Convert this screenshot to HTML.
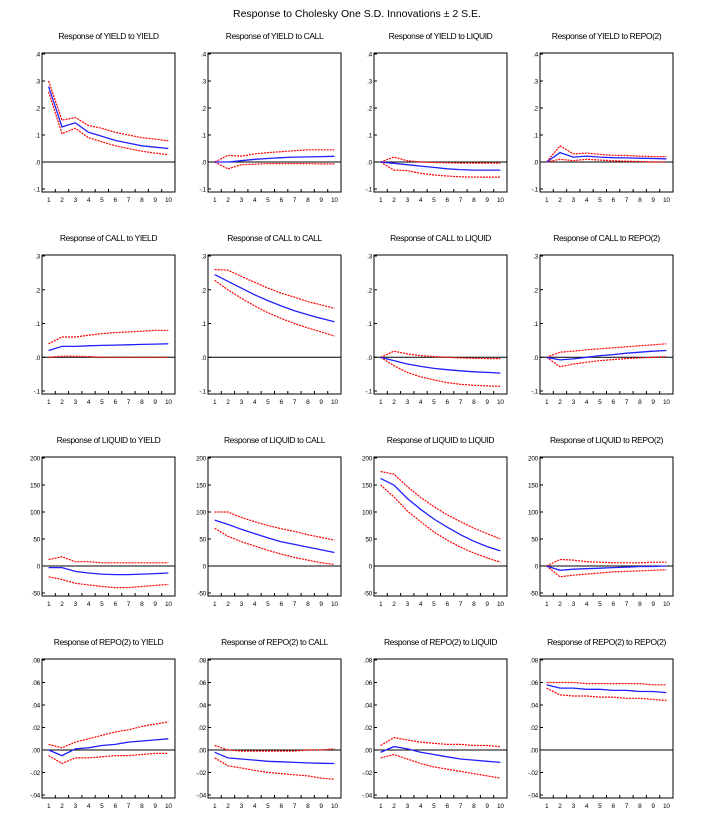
<!DOCTYPE html>
<html><head><meta charset="utf-8">
<style>
body{margin:0;background:#fff;width:715px;height:822px;overflow:hidden;font-family:"Liberation Sans",sans-serif}
svg{display:block}
</style></head>
<body>
<svg id="chart" width="715" height="822" xmlns="http://www.w3.org/2000/svg">
<text x="357" y="17" text-anchor="middle" font-size="10.5" font-family="Liberation Sans, sans-serif">Response to Cholesky One S.D. Innovations ± 2 S.E.</text>
</svg>
<script>
const periods = [1,2,3,4,5,6,7,8,9,10];
const rowTicks0 = [".4",".3",".2",".1",".0","-.1"];
const rowTickVals0 = [0.4,0.3,0.2,0.1,0,-0.1];
const rowTicks1 = [".3",".2",".1",".0","-.1"];
const rowTickVals1 = [0.3,0.2,0.1,0,-0.1];
const rowTicks2 = ["200","150","100","50","0","-50"];
const rowTickVals2 = [200,150,100,50,0,-50];
const rowTicks3 = [".08",".06",".04",".02",".00","-.02","-.04"];
const rowTickVals3 = [0.08,0.06,0.04,0.02,0,-0.02,-0.04];
const variables = ["YIELD","CALL","LIQUID","REPO(2)"];

const m11=[.28,.13,.145,.11,.095,.08,.07,.06,.055,.05], u11=[.30,.155,.165,.135,.125,.11,.10,.09,.085,.078], l11=[.26,.105,.125,.09,.075,.06,.05,.04,.033,.027];
const m12=[0,0,.005,.01,.013,.016,.018,.019,.02,.021], u12=[0,.025,.022,.03,.035,.038,.042,.045,.045,.045], l12=[0,-.025,-.01,-.008,-.006,-.006,-.006,-.006,-.007,-.007];
const m13=[0,-.005,-.01,-.015,-.02,-.025,-.028,-.03,-.03,-.03], u13=[0,.018,.005,0,-.002,-.003,-.004,-.004,-.004,-.004], l13=[0,-.03,-.032,-.042,-.048,-.052,-.055,-.056,-.056,-.056];
const m14=[0,.035,.018,.022,.018,.016,.015,.014,.013,.012], u14=[0,.06,.03,.033,.028,.025,.024,.022,.02,.02], l14=[0,.01,.005,.01,.007,.005,.003,.002,0,0];
const m21=[.02,.032,.032,.034,.035,.036,.037,.038,.039,.04], u21=[.04,.06,.06,.065,.07,.073,.075,.077,.08,.08], l21=[0,.003,.003,.002,0,0,0,0,0,0];
const m22=[.245,.225,.205,.185,.168,.152,.138,.126,.115,.105], u22=[.26,.258,.24,.222,.205,.19,.178,.165,.155,.145], l22=[.228,.2,.175,.152,.132,.115,.1,.087,.075,.063];
const m23=[0,-.01,-.02,-.027,-.033,-.037,-.04,-.043,-.045,-.047], u23=[0,.018,.01,.005,.002,0,-.002,-.003,-.004,-.004], l23=[0,-.025,-.045,-.058,-.067,-.075,-.08,-.083,-.085,-.086];
const m24=[0,-.008,-.005,0,.005,.008,.012,.015,.018,.02], u24=[0,.015,.018,.022,.025,.028,.031,.034,.037,.04], l24=[0,-.028,-.02,-.015,-.01,-.007,-.004,-.002,0,.002];
const m31=[-3,-3,-10,-13,-15,-16,-16,-15,-14,-13], u31=[12,17,8,8,6,6,6,6,6,6], l31=[-20,-25,-32,-35,-38,-40,-40,-38,-36,-34];
const m32=[85,77,68,60,52,45,40,35,30,25], u32=[100,100,90,82,75,69,64,58,53,48], l32=[70,55,45,37,29,22,16,11,6,3];
const m33=[162,150,125,105,87,72,58,46,36,28], u33=[175,170,147,127,110,95,82,70,60,50], l33=[150,128,102,82,63,48,35,24,15,7];
const m34=[0,-8,-6,-5,-4,-3,-2,-1,-1,0], u34=[0,12,11,8,7,6,6,6,7,7], l34=[0,-20,-17,-15,-13,-11,-10,-9,-8,-7];
const m41=[0,-.005,.001,.002,.004,.005,.007,.008,.009,.01], u41=[.005,.002,.007,.01,.013,.016,.018,.021,.023,.025], l41=[-.005,-.012,-.007,-.007,-.006,-.005,-.005,-.004,-.003,-.003];
const m42=[-.002,-.007,-.008,-.009,-.01,-.0105,-.011,-.0115,-.0118,-.012], u42=[.004,0,-.001,-.001,-.001,-.001,-.001,0,0,.001], l42=[-.007,-.014,-.016,-.018,-.02,-.021,-.022,-.023,-.025,-.026];
const m43=[-.002,.003,.001,-.002,-.004,-.006,-.008,-.009,-.01,-.011], u43=[.004,.011,.009,.007,.006,.005,.005,.004,.004,.003], l43=[-.007,-.004,-.008,-.012,-.015,-.017,-.019,-.021,-.023,-.025];
const m44=[.058,.055,.055,.054,.054,.053,.053,.052,.052,.051], u44=[.06,.06,.06,.059,.059,.059,.059,.059,.058,.058], l44=[.055,.049,.048,.048,.047,.047,.046,.046,.045,.044];

const series = [
 [[m11,u11,l11],[m12,u12,l12],[m13,u13,l13],[m14,u14,l14]],
 [[m21,u21,l21],[m22,u22,l22],[m23,u23,l23],[m24,u24,l24]],
 [[m31,u31,l31],[m32,u32,l32],[m33,u33,l33],[m34,u34,l34]],
 [[m41,u41,l41],[m42,u42,l42],[m43,u43,l43],[m44,u44,l44]]
];
const tickLabels=[rowTicks0,rowTicks1,rowTicks2,rowTicks3];
const tickVals=[rowTickVals0,rowTickVals1,rowTickVals2,rowTickVals3];

const svg=document.getElementById('chart');
const NS='http://www.w3.org/2000/svg';
function mk(tag,attrs,parent){const e=document.createElementNS(NS,tag);for(const k in attrs)e.setAttribute(k,attrs[k]);(parent||svg).appendChild(e);return e;}
const colX=[42,208,374,540], rowY=[53,255,457,659], W=133, H=139;

for(let r=0;r<4;r++){for(let c=0;c<4;c++){
 const g=mk('g',{});
 
 
 const x0=colX[c], y0=rowY[r];
 const tv=tickVals[r], tl=tickLabels[r];
 const yMax=tv[0], yMin=tv[tv.length-1];
 const yTop=y0+1, yBot=y0+H-3;
 const ys=v=>yBot-(v-yMin)/(yMax-yMin)*(yBot-yTop);
 const xs=p=>x0+(p-0.5)/10*W;
 const t=mk('text',{x:x0+W/2,y:y0-14,'text-anchor':'middle','font-size':'8.5','letter-spacing':'-0.4'},g);
 t.textContent='Response of '+variables[r]+' to '+variables[c];
 
 
 const fr=mk('rect',{x:x0,y:y0,width:W,height:H,fill:'none',stroke:'#000','stroke-width':1},g);
 
 
 tv.forEach((v,i)=>{
  const y=ys(v);
  mk('line',{x1:x0,x2:x0+3,y1:y,y2:y,stroke:'#000','stroke-width':1},g);
  const lab=mk('text',{x:x0-2,y:y+2.5,'text-anchor':'end','font-size':'6.5','letter-spacing':'-0.3'},g);
  lab.textContent=tl[i];
  
  
 });
 periods.forEach(p=>{
  mk('line',{x1:xs(p+0.5),x2:xs(p+0.5),y1:y0+H,y2:y0+H-3,stroke:'#000','stroke-width':1},g);
  const lab=mk('text',{x:xs(p),y:y0+H+10,'text-anchor':'middle','font-size':'6.5','letter-spacing':'-0.3'},g);
  lab.textContent=String(p);
  
  
 });
 const z=mk('line',{x1:x0,x2:x0+W,y1:ys(0),y2:ys(0),stroke:'#000','stroke-width':1},g);
 
 
 const [m,u,l]=series[r][c];
 const pts=a=>a.map((v,i)=>xs(periods[i]).toFixed(1)+','+ys(v).toFixed(1)).join(' ');
 const pu=mk('polyline',{points:pts(u),fill:'none',stroke:'#f00','stroke-width':1.2,'stroke-dasharray':'2,1'},g);
 
 
 const pl=mk('polyline',{points:pts(l),fill:'none',stroke:'#f00','stroke-width':1.2,'stroke-dasharray':'2,1'},g);
 
 
 const pm=mk('polyline',{points:pts(m),fill:'none',stroke:'#2020ff','stroke-width':1.3},g);
 
 
}}
</script>
</body></html>
